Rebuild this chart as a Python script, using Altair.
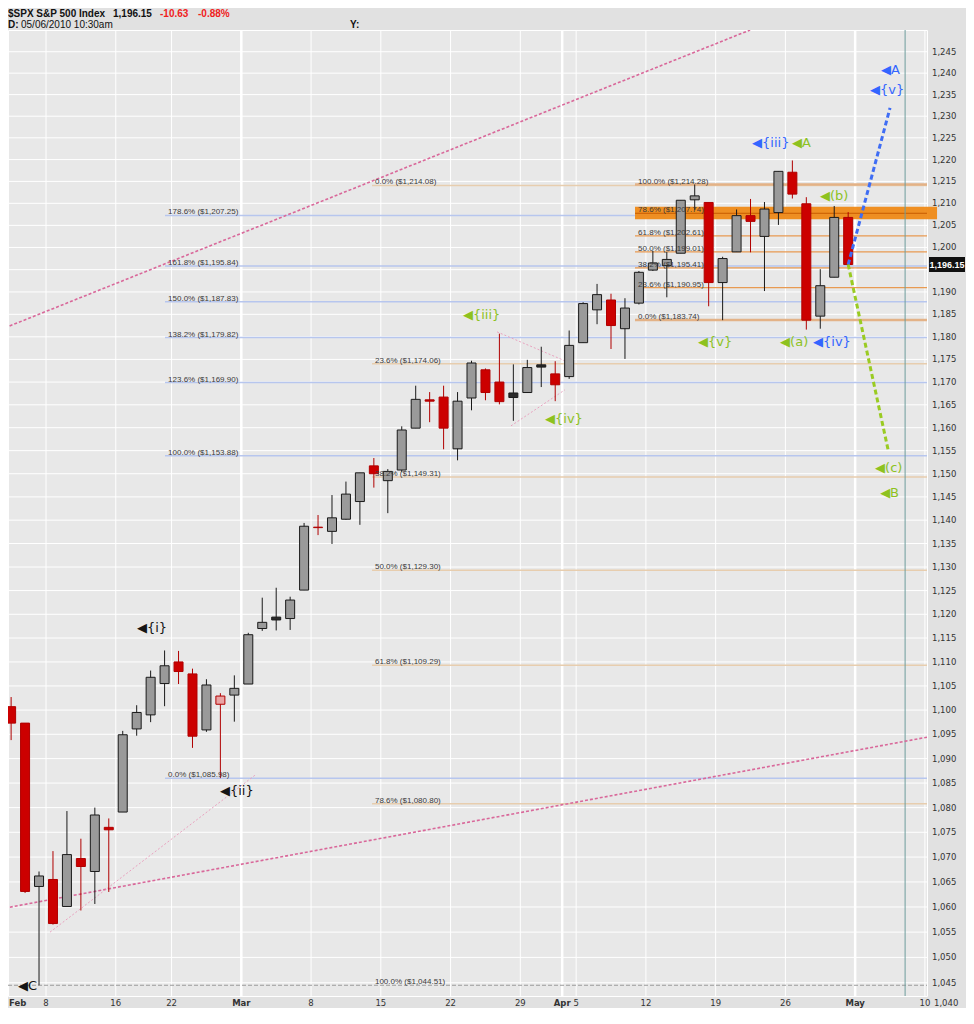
import altair as alt
import pandas as pd

# ---------------- data ----------------
days = ["Feb 3", "Feb 4", "Feb 5", "Feb 8", "Feb 9", "Feb 10", "Feb 11", "Feb 12",
        "Feb 16", "Feb 17", "Feb 18", "Feb 19", "Feb 22", "Feb 23", "Feb 24", "Feb 25", "Feb 26",
        "Mar 1", "Mar 2", "Mar 3", "Mar 4", "Mar 5", "Mar 8", "Mar 9", "Mar 10", "Mar 11", "Mar 12",
        "Mar 15", "Mar 16", "Mar 17", "Mar 18", "Mar 19", "Mar 22", "Mar 23", "Mar 24", "Mar 25",
        "Mar 26", "Mar 29", "Mar 30", "Mar 31", "Apr 1", "Apr 5", "Apr 6", "Apr 7", "Apr 8", "Apr 9",
        "Apr 12", "Apr 13", "Apr 14", "Apr 15", "Apr 16", "Apr 19", "Apr 20", "Apr 21", "Apr 22",
        "Apr 23", "Apr 26", "Apr 27", "Apr 28", "Apr 29", "Apr 30"]
opens = [1100.7, 1097.3, 1064.1, 1065.5, 1060.1, 1069.7, 1067.1, 1076.0, 1079.1, 1096.1, 1099.0,
         1105.5, 1110.0, 1107.5, 1095.9, 1101.2, 1103.1, 1105.4, 1117.0, 1119.4, 1119.1, 1125.1,
         1138.4, 1137.6, 1140.2, 1144.0, 1151.7, 1148.5, 1150.8, 1159.9, 1166.1, 1166.7, 1155.4,
         1166.5, 1172.7, 1170.0, 1167.6, 1167.7, 1173.8, 1171.8, 1171.2, 1178.7, 1186.0, 1188.2,
         1181.8, 1187.5, 1194.9, 1195.9, 1198.7, 1210.8, 1210.2, 1192.1, 1199.0, 1207.2, 1202.5,
         1207.9, 1217.1, 1209.9, 1184.6, 1193.3, 1206.8]
highs = [1102.7, 1097.3, 1067.1, 1071.2, 1079.3, 1073.7, 1080.0, 1077.8, 1095.7, 1101.0, 1108.2,
         1112.4, 1112.3, 1108.6, 1106.4, 1103.5, 1107.2, 1116.1, 1123.5, 1125.6, 1123.7, 1139.4,
         1141.1, 1145.4, 1148.3, 1150.2, 1153.4, 1151.0, 1160.3, 1169.2, 1167.8, 1169.2, 1167.8,
         1174.7, 1173.0, 1180.7, 1173.9, 1174.9, 1177.8, 1174.6, 1181.4, 1187.7, 1191.8, 1189.6,
         1188.6, 1194.7, 1199.2, 1199.0, 1210.7, 1214.3, 1210.2, 1197.9, 1208.6, 1211.0, 1210.3,
         1217.3, 1219.8, 1211.4, 1195.1, 1209.4, 1208.0]
lows = [1093.8, 1062.8, 1044.5, 1056.5, 1060.1, 1059.3, 1060.6, 1063.0, 1079.1, 1094.7, 1097.5,
        1100.8, 1105.4, 1092.2, 1095.5, 1086.0, 1097.6, 1105.4, 1116.5, 1116.6, 1116.7, 1125.1,
        1136.8, 1134.9, 1140.1, 1139.0, 1147.0, 1141.5, 1150.4, 1159.9, 1161.2, 1155.3, 1152.9,
        1163.8, 1166.0, 1165.1, 1161.5, 1167.7, 1168.9, 1165.8, 1170.7, 1178.7, 1182.8, 1177.3,
        1175.1, 1187.2, 1194.7, 1188.8, 1198.7, 1208.5, 1186.8, 1183.7, 1199.0, 1198.9, 1190.2,
        1205.1, 1211.1, 1181.6, 1181.8, 1193.3, 1195.8]
closes = [1097.3, 1063.1, 1066.2, 1056.7, 1070.5, 1068.1, 1078.5, 1075.5, 1094.9, 1099.5, 1106.8,
          1109.2, 1108.0, 1094.6, 1105.2, 1102.9, 1104.5, 1115.7, 1118.3, 1118.8, 1123.0, 1138.7,
          1138.5, 1140.5, 1145.6, 1150.2, 1150.0, 1150.5, 1159.5, 1166.2, 1165.8, 1159.9, 1165.8,
          1174.2, 1167.7, 1165.7, 1166.6, 1173.2, 1173.3, 1169.4, 1178.1, 1187.4, 1189.4, 1182.5,
          1186.4, 1194.4, 1196.5, 1197.3, 1210.7, 1211.7, 1192.1, 1197.5, 1207.2, 1205.9, 1208.7,
          1217.3, 1212.1, 1183.7, 1191.4, 1206.8, 1196.15]

# x axis ticks (trading-day index of the first session of the labelled day)
tick_idx = [2, 7, 11, 16, 21, 26, 31, 36, 39, 40, 45, 50, 55, 60, 65]
tick_lbl = ["8", "16", "22", "Mar", "8", "15", "22", "29", "Apr", "5", "12", "19", "26", "May", "10"]
tick_month = [False, False, False, True, False, False, False, False, True, False, False, False, False, True, False]

y_grid = list(range(1045, 1250, 5))
y_labels = [v for v in range(1045, 1250, 5) if v != 1195]   # 1,195 sits under the price tag
y_bottom_label = "1,040"

# Fibonacci sets
fibA_pct = ["178.6%", "161.8%", "150.0%", "138.2%", "123.6%", "100.0%", "0.0%"]
fibA_lvl = [1207.25, 1195.84, 1187.83, 1179.82, 1169.90, 1153.88, 1085.98]
fibB_pct = ["0.0%", "23.6%", "38.2%", "50.0%", "61.8%", "78.6%", "100.0%"]
fibB_lvl = [1214.08, 1174.06, 1149.31, 1129.30, 1109.29, 1080.80, 1044.51]
fibC_pct = ["100.0%", "78.6%", "61.8%", "50.0%", "38.2%", "23.6%", "0.0%"]
fibC_lvl = [1214.28, 1207.74, 1202.61, 1199.01, 1195.41, 1190.95, 1183.74]
fibA_start, fibB_start, fibC_start = 10.53, 25.37, 44.22
band_lo, band_hi = 1206.4, 1209.2

# trend / projection lines (trading-day index, price)
chan_id = ["up", "up", "low", "low"]
chan_x = [-0.94, 52.47, -1.3, 65.15]
chan_y = [1182.0, 1250.1, 1059.6, 1094.4]
thin_id = ["ii", "ii", "t1", "t1", "t2", "t2"]
thin_x = [2.29, 16.98, 34.33, 39.56, 35.33, 39.2]
thin_y = [1055.0, 1086.6, 1181.1, 1174.2, 1160.4, 1168.3]
projB_x = [59.5, 62.5]
projB_y = [1196.15, 1231.9]
projG_x = [59.5, 62.36]
projG_y = [1196.15, 1155.2]
today_idx = 63.58

# wave labels
wave_txt = ["◀{iii}", "◀A", "◀(b)", "◀A", "◀{v}", "◀{iii}", "◀{iv}", "◀{v}", "◀(a)", "◀{iv}",
            "◀(c)", "◀B", "◀{i}", "◀{ii}", "◀C", "◀v"]
wave_x = [52.61, 55.48, 57.48, 61.86, 61.07, 31.89, 37.77, 48.74, 54.62, 56.98, 61.43, 61.79,
          8.52, 14.47, -0.01, -0.01]
wave_y = [1223.8, 1223.8, 1211.7, 1240.7, 1236.1, 1184.9, 1161.9, 1178.9, 1178.9, 1178.9,
          1151.3, 1145.9, 1117.2, 1083.3, 1044.4, 1041.6]
wave_grp = ["blue", "green", "green", "blue", "blue", "green", "green", "green", "green", "blue",
            "green", "green", "black", "black", "black", "black"]

# ---------------- scales ----------------
W, H = 919, 966
x_scale = alt.Scale(domain=[-0.724, 65.15], nice=False, zero=False, padding=0)
y_scale = alt.Scale(type="log", domain=[1042.4, 1250.1], nice=False, zero=False, padding=0)


def X(f):
    return alt.X(f"{f}:Q", scale=x_scale, axis=None)


def Y(f):
    return alt.Y(f"{f}:Q", scale=y_scale, axis=None)


# ---------------- tables ----------------
cd = pd.DataFrame({"day": days, "o": opens, "h": highs, "l": lows, "c": closes})
cd["x"] = [i - 1 + 0.5 for i in range(len(cd))]
cd["pc"] = cd["c"].shift(1).fillna(cd["o"])
cd["bo"] = cd[["o", "c"]].min(axis=1)
cd["bc"] = cd[["o", "c"]].max(axis=1)
red = cd["c"] < cd["pc"]
filled = cd["c"] < cd["o"]
cd["stroke"] = ["#B00000" if r else "#1A1A1A" for r in red]
cd["fill"] = [("#CC0000" if f else "#E9A3A3") if r else ("#2A2A2A" if f else "#9A9A9A")
              for r, f in zip(red, filled)]

ticks = pd.DataFrame({"x": tick_idx, "t": tick_lbl, "m": tick_month})


def fib_table(pcts, lvls, start):
    return pd.DataFrame({
        "lvl": lvls,
        "x": [start] * len(lvls),
        "x2": [65.15] * len(lvls),
        "t": [f"{p}  (${v:,.2f})" for p, v in zip(pcts, lvls)],
    })


fa = fib_table(fibA_pct, fibA_lvl, fibA_start)
fb = fib_table(fibB_pct, fibB_lvl, fibB_start)
fc = fib_table(fibC_pct, fibC_lvl, fibC_start)

# ---------------- layers ----------------
layers = []

# horizontal grid
layers.append(alt.Chart(pd.DataFrame({"v": y_grid})).mark_rule(color="white", strokeWidth=1).encode(y=Y("v")))
# vertical grid
layers.append(alt.Chart(ticks[~ticks["m"]]).mark_rule(color="white", strokeWidth=1).encode(x=X("x")))
layers.append(alt.Chart(ticks[ticks["m"]]).mark_rule(color="white", strokeWidth=2.5).encode(x=X("x")))

# fib lines
layers.append(alt.Chart(fa).mark_rule(color="#B7C6EE", strokeWidth=1.5).encode(x=X("x"), x2="x2:Q", y=Y("lvl")))
layers.append(alt.Chart(fb.iloc[:-1]).mark_rule(color="#E7CDAE", strokeWidth=1.5).encode(x=X("x"), x2="x2:Q", y=Y("lvl")))
is_edge = fc["t"].str.startswith("100.0%") | fc["t"].str.startswith("0.0%")
is_mid = fc["t"].str.startswith("78.6%")
layers.append(alt.Chart(fc[is_edge]).mark_rule(color="#E3B287", strokeWidth=2.5).encode(x=X("x"), x2="x2:Q", y=Y("lvl")))
layers.append(alt.Chart(fc[~is_edge & ~is_mid]).mark_rule(color="#E89A52", strokeWidth=1.2).encode(x=X("x"), x2="x2:Q", y=Y("lvl")))
# orange band
band = pd.DataFrame({"x": [fibC_start], "x2": [65.87], "lo": [band_lo], "hi": [band_hi]})
layers.append(alt.Chart(band).mark_rect(color="#EF8A17", opacity=0.95).encode(x=X("x"), x2="x2:Q", y=Y("lo"), y2="hi:Q"))
layers.append(alt.Chart(fc[is_mid]).mark_rule(color="#C65A00", strokeWidth=1).encode(x=X("x"), x2="x2:Q", y=Y("lvl")))
# 100% dashed gray line
low_line = pd.DataFrame({"x": [-0.724], "x2": [65.15], "lvl": [fibB_lvl[-1]]})
layers.append(alt.Chart(low_line).mark_rule(color="#9A9A9A", strokeWidth=1.2, strokeDash=[4, 2]).encode(x=X("x"), x2="x2:Q", y=Y("lvl")))

# today marker
layers.append(alt.Chart(pd.DataFrame({"x": [today_idx]})).mark_rule(color="#6E9C9C", strokeWidth=1).encode(x=X("x")))

# trend lines
chan = pd.DataFrame({"id": chan_id, "x": chan_x, "y": chan_y})
layers.append(alt.Chart(chan).mark_line(color="#D9689A", strokeWidth=1.6, strokeDash=[3, 2], clip=True).encode(x=X("x"), y=Y("y"), detail="id:N"))
thin = pd.DataFrame({"id": thin_id, "x": thin_x, "y": thin_y})
layers.append(alt.Chart(thin).mark_line(color="#E8A2BF", strokeWidth=1, strokeDash=[2, 2], clip=True).encode(x=X("x"), y=Y("y"), detail="id:N"))

# candles
layers.append(alt.Chart(cd).mark_rule(strokeWidth=1, clip=True).encode(
    x=X("x"), y=Y("l"), y2="h:Q", color=alt.Color("stroke:N", scale=None)))
layers.append(alt.Chart(cd).mark_bar(width=9, strokeWidth=1, clip=True).encode(
    x=X("x"), y=Y("bo"), y2="bc:Q", fill=alt.Fill("fill:N", scale=None),
    stroke=alt.Stroke("stroke:N", scale=None)))

# projections
layers.append(alt.Chart(pd.DataFrame({"x": projB_x, "y": projB_y})).mark_line(
    color="#3F6DF4", strokeWidth=3, strokeDash=[5, 3]).encode(x=X("x"), y=Y("y")))
layers.append(alt.Chart(pd.DataFrame({"x": projG_x, "y": projG_y})).mark_line(
    color="#9ACB22", strokeWidth=3, strokeDash=[5, 3]).encode(x=X("x"), y=Y("y")))

# fib labels
fib_lbl = pd.concat([
    fa.assign(x=fa["x"] + 0.22),
    fb.assign(x=fb["x"] + 0.21),
    fc.assign(x=fc["x"] + 0.22),
])
layers.append(alt.Chart(fib_lbl).mark_text(align="left", baseline="middle", dy=-3, fontSize=8,
                                           font="Liberation Sans", color="#3A3A3A").encode(
    x=X("x"), y=Y("lvl"), text="t:N"))

# wave labels
wv = pd.DataFrame({"t": wave_txt, "x": wave_x, "y": wave_y, "g": wave_grp})
layers.append(alt.Chart(wv.iloc[:-1]).mark_text(align="left", baseline="middle", fontSize=13,
                                                font="DejaVu Sans").encode(
    x=X("x"), y=Y("y"), text="t:N",
    color=alt.Color("g:N", scale=alt.Scale(domain=["blue", "green", "black"],
                                           range=["#3366FF", "#8DC21F", "#151515"]), legend=None)))
layers.append(alt.Chart(wv.iloc[-1:]).mark_text(align="left", baseline="middle", fontSize=13,
                                                font="DejaVu Sans", color="#151515", clip=True).encode(
    x=X("x"), y=Y("y"), text="t:N"))

# right axis labels
yl = pd.DataFrame({"v": y_labels, "t": [f"{v:,}" for v in y_labels]})
layers.append(alt.Chart(yl).mark_text(align="left", baseline="middle", fontSize=8.5,
                                      font="DejaVu Sans", color="#333333").encode(
    x=alt.value(W + 5), y=Y("v"), text="t:N"))
layers.append(alt.Chart(pd.DataFrame({"t": [y_bottom_label]})).mark_text(
    align="left", baseline="middle", fontSize=8.5, font="DejaVu Sans", color="#333333").encode(
    x=alt.value(W + 7), y=alt.value(H + 7), text="t:N"))

# last price tag
tag = pd.DataFrame({"y": [closes[-1]], "t": [f"{closes[-1]:,.2f}"]})
layers.append(alt.Chart(tag).mark_point(shape="M-1,-0.42L1,-0.42L1,0.42L-1,0.42Z", filled=True,
                                        color="#111111", size=1296, opacity=1).encode(
    x=alt.value(W + 20), y=Y("y")))
layers.append(alt.Chart(tag).mark_text(color="white", fontWeight="bold", fontSize=9,
                                       font="Liberation Sans").encode(
    x=alt.value(W + 20), y=Y("y"), text="t:N"))

# x axis labels
layers.append(alt.Chart(ticks[~ticks["m"]]).mark_text(fontSize=8.5, font="DejaVu Sans", color="#333333",
                                                      baseline="middle").encode(
    x=X("x"), y=alt.value(H + 7), text="t:N"))
layers.append(alt.Chart(ticks[ticks["m"]]).mark_text(fontSize=8.5, font="DejaVu Sans", color="#333333",
                                                     fontWeight="bold", baseline="middle").encode(
    x=X("x"), y=alt.value(H + 7), text="t:N"))
layers.append(alt.Chart(pd.DataFrame({"t": ["Feb"]})).mark_text(
    fontSize=8.5, font="DejaVu Sans", color="#333333", fontWeight="bold", align="left",
    baseline="middle").encode(x=alt.value(1), y=alt.value(H + 7), text="t:N"))


# header
def head(txt, px, py, bold=True, color="#111111"):
    return alt.Chart(pd.DataFrame({"t": [txt]})).mark_text(
        align="left", baseline="middle", fontSize=10, font="Liberation Sans",
        fontWeight="bold" if bold else "normal", color=color).encode(
        x=alt.value(px), y=alt.value(py), text="t:N")


layers += [
    head("$SPX S&P 500 Index", 0, -16),
    head("1,196.15", 105, -16),
    head("-10.63", 152, -16, color="#F02020"),
    head("-0.88%", 190, -16, color="#F02020"),
    head("D:", 0, -5),
    head("05/06/2010  10:30am", 13, -5, bold=False),
    head("Y:", 342, -5),
]

chart = alt.layer(*layers).properties(
    width=W, height=H,
    padding={"left": 0, "top": 22, "right": 39, "bottom": 12},
    autosize=alt.AutoSizeParams(type="none"),
    background="#E1E1E1",
).configure_view(fill="#E8E8E8", stroke="white", strokeWidth=1)

chart.save("out.html", embed_options={"renderer": "svg", "actions": False})
